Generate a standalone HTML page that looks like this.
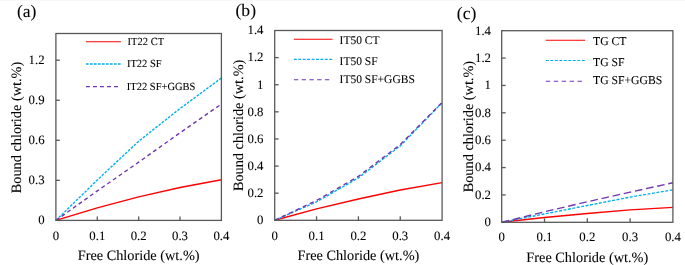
<!DOCTYPE html><html><head><meta charset="utf-8"><style>html,body{margin:0;padding:0;background:#fff;}svg{display:block;}text{text-rendering:geometricPrecision;}</style></head><body>
<svg width="685" height="265" viewBox="0 0 685 265" font-family='"Liberation Serif", serif'>
<defs><filter id="gs" filterUnits="userSpaceOnUse" x="0" y="0" width="685" height="265" color-interpolation-filters="sRGB"><feColorMatrix type="saturate" values="0"/></filter></defs>
<rect width="685" height="265" fill="#fff"/>
<rect width="685" height="1" fill="#f8f8f8"/>
<g>
<polyline points="55.90,220.40 97.28,207.85 138.65,196.90 180.02,187.56 221.40,179.68" fill="none" stroke="#ff0000" stroke-width="1.45" stroke-linejoin="round"/>
<polyline points="55.90,220.40 97.28,180.08 138.65,141.23 180.02,108.53 221.40,77.96" fill="none" stroke="#00b0f0" stroke-width="1.4" stroke-dasharray="2.64 1.36" stroke-linejoin="round"/>
<polyline points="55.90,220.40 97.28,190.90 138.65,162.19 180.02,132.82 221.40,104.12" fill="none" stroke="#7035b0" stroke-width="1.4" stroke-dasharray="3.92 3.08" stroke-linejoin="round"/>
<rect x="55.90" y="33.50" width="165.50" height="186.90" fill="none" stroke="#595959" stroke-width="1.3"/>
<line x1="55.90" y1="180.35" x2="59.90" y2="180.35" stroke="#595959" stroke-width="1.3"/>
<line x1="55.90" y1="140.30" x2="59.90" y2="140.30" stroke="#595959" stroke-width="1.3"/>
<line x1="55.90" y1="100.25" x2="59.90" y2="100.25" stroke="#595959" stroke-width="1.3"/>
<line x1="55.90" y1="60.20" x2="59.90" y2="60.20" stroke="#595959" stroke-width="1.3"/>
<line x1="97.28" y1="220.40" x2="97.28" y2="216.40" stroke="#595959" stroke-width="1.3"/>
<line x1="138.65" y1="220.40" x2="138.65" y2="216.40" stroke="#595959" stroke-width="1.3"/>
<line x1="180.02" y1="220.40" x2="180.02" y2="216.40" stroke="#595959" stroke-width="1.3"/>
<line x1="86.00" y1="41.70" x2="120.90" y2="41.70" stroke="#ff0000" stroke-width="1.1"/>
<line x1="86.00" y1="64.00" x2="120.90" y2="64.00" stroke="#00b0f0" stroke-width="1.5" stroke-dasharray="2.64 1.36"/>
<line x1="86.00" y1="86.70" x2="120.90" y2="86.70" stroke="#7035b0" stroke-width="1.3" stroke-dasharray="3.92 3.08"/>
<polyline points="274.70,220.30 316.55,208.91 358.40,199.02 400.25,190.07 442.10,182.61" fill="none" stroke="#ff0000" stroke-width="1.45" stroke-linejoin="round"/>
<polyline points="274.70,220.30 316.55,201.86 358.40,177.87 400.25,145.87 442.10,102.76" fill="none" stroke="#00b0f0" stroke-width="1.4" stroke-dasharray="2.92 1.50" stroke-linejoin="round"/>
<polyline points="274.70,220.30 316.55,200.51 358.40,176.37 400.25,144.65 442.10,102.35" fill="none" stroke="#7035b0" stroke-width="1.4" stroke-dasharray="4.34 3.41" stroke-linejoin="round"/>
<rect x="274.70" y="30.50" width="167.40" height="189.80" fill="none" stroke="#595959" stroke-width="1.3"/>
<line x1="274.70" y1="193.19" x2="278.70" y2="193.19" stroke="#595959" stroke-width="1.3"/>
<line x1="274.70" y1="166.07" x2="278.70" y2="166.07" stroke="#595959" stroke-width="1.3"/>
<line x1="274.70" y1="138.96" x2="278.70" y2="138.96" stroke="#595959" stroke-width="1.3"/>
<line x1="274.70" y1="111.84" x2="278.70" y2="111.84" stroke="#595959" stroke-width="1.3"/>
<line x1="274.70" y1="84.73" x2="278.70" y2="84.73" stroke="#595959" stroke-width="1.3"/>
<line x1="274.70" y1="57.61" x2="278.70" y2="57.61" stroke="#595959" stroke-width="1.3"/>
<line x1="316.55" y1="220.30" x2="316.55" y2="216.30" stroke="#595959" stroke-width="1.3"/>
<line x1="358.40" y1="220.30" x2="358.40" y2="216.30" stroke="#595959" stroke-width="1.3"/>
<line x1="400.25" y1="220.30" x2="400.25" y2="216.30" stroke="#595959" stroke-width="1.3"/>
<line x1="293.90" y1="39.20" x2="332.50" y2="39.20" stroke="#ff0000" stroke-width="1.1"/>
<line x1="293.90" y1="59.40" x2="332.50" y2="59.40" stroke="#00b0f0" stroke-width="1.15" stroke-dasharray="2.92 1.50"/>
<line x1="293.90" y1="79.70" x2="332.50" y2="79.70" stroke="#7035b0" stroke-width="1.15" stroke-dasharray="4.34 3.41"/>
<polyline points="501.70,222.30 544.50,217.51 587.30,213.54 630.10,209.85 672.90,207.38" fill="none" stroke="#ff0000" stroke-width="1.45" stroke-linejoin="round"/>
<polyline points="501.70,222.30 544.50,213.95 587.30,205.47 630.10,197.12 672.90,189.86" fill="none" stroke="#00b0f0" stroke-width="1.4" stroke-dasharray="2.97 1.53" stroke-linejoin="round"/>
<polyline points="501.70,222.30 544.50,211.76 587.30,201.77 630.10,192.19 672.90,182.75" fill="none" stroke="#7035b0" stroke-width="1.4" stroke-dasharray="7.6 3.8" stroke-linejoin="round"/>
<rect x="501.70" y="30.70" width="171.20" height="191.60" fill="none" stroke="#595959" stroke-width="1.3"/>
<line x1="501.70" y1="194.93" x2="505.70" y2="194.93" stroke="#595959" stroke-width="1.3"/>
<line x1="501.70" y1="167.56" x2="505.70" y2="167.56" stroke="#595959" stroke-width="1.3"/>
<line x1="501.70" y1="140.19" x2="505.70" y2="140.19" stroke="#595959" stroke-width="1.3"/>
<line x1="501.70" y1="112.81" x2="505.70" y2="112.81" stroke="#595959" stroke-width="1.3"/>
<line x1="501.70" y1="85.44" x2="505.70" y2="85.44" stroke="#595959" stroke-width="1.3"/>
<line x1="501.70" y1="58.07" x2="505.70" y2="58.07" stroke="#595959" stroke-width="1.3"/>
<line x1="544.50" y1="222.30" x2="544.50" y2="218.30" stroke="#595959" stroke-width="1.3"/>
<line x1="587.30" y1="222.30" x2="587.30" y2="218.30" stroke="#595959" stroke-width="1.3"/>
<line x1="630.10" y1="222.30" x2="630.10" y2="218.30" stroke="#595959" stroke-width="1.3"/>
<line x1="545.80" y1="40.20" x2="585.10" y2="40.20" stroke="#ff0000" stroke-width="1.1"/>
<line x1="545.80" y1="60.50" x2="585.10" y2="60.50" stroke="#00b0f0" stroke-width="1.15" stroke-dasharray="2.97 1.53"/>
<line x1="545.80" y1="81.20" x2="585.10" y2="81.20" stroke="#7035b0" stroke-width="1.15" stroke-dasharray="4.44 3.48"/>
<g fill="#000" stroke="#000" stroke-width="0.08" filter="url(#gs)">
<text transform="translate(44.60,224.20) scale(1,1.0)" font-size="12.8" text-anchor="end">0</text>
<text transform="translate(44.60,184.15) scale(1,1.0)" font-size="12.8" text-anchor="end">0.3</text>
<text transform="translate(44.60,144.10) scale(1,1.0)" font-size="12.8" text-anchor="end">0.6</text>
<text transform="translate(44.60,104.05) scale(1,1.0)" font-size="12.8" text-anchor="end">0.9</text>
<text transform="translate(44.60,64.00) scale(1,1.0)" font-size="12.8" text-anchor="end">1.2</text>
<text transform="translate(55.90,240.00) scale(1,1.0)" font-size="12.8" text-anchor="middle">0</text>
<text transform="translate(97.28,240.00) scale(1,1.0)" font-size="12.8" text-anchor="middle">0.1</text>
<text transform="translate(138.65,240.00) scale(1,1.0)" font-size="12.8" text-anchor="middle">0.2</text>
<text transform="translate(180.02,240.00) scale(1,1.0)" font-size="12.8" text-anchor="middle">0.3</text>
<text transform="translate(221.40,240.00) scale(1,1.0)" font-size="12.8" text-anchor="middle">0.4</text>
<text x="138.65" y="259.90" font-size="14.3" text-anchor="middle">Free Chloride (wt.%)</text>
<text transform="translate(21.20,127.50) rotate(-90)" font-size="14.3" text-anchor="middle">Bound chloride (wt.%)</text>
<text x="16.90" y="17.20" font-size="17.6">(a)</text>
<text transform="translate(127.60,44.90) scale(1,1.03)" font-size="10.5">IT22 CT</text>
<text transform="translate(126.90,66.80) scale(1,1.03)" font-size="10.5">IT22 SF</text>
<text transform="translate(126.80,89.90) scale(1,1.03)" font-size="10.5">IT22 SF+GGBS</text>
<text transform="translate(263.50,224.10) scale(1,1.0)" font-size="12.8" text-anchor="end">0</text>
<text transform="translate(263.50,196.99) scale(1,1.0)" font-size="12.8" text-anchor="end">0.2</text>
<text transform="translate(263.50,169.87) scale(1,1.0)" font-size="12.8" text-anchor="end">0.4</text>
<text transform="translate(263.50,142.76) scale(1,1.0)" font-size="12.8" text-anchor="end">0.6</text>
<text transform="translate(263.50,115.64) scale(1,1.0)" font-size="12.8" text-anchor="end">0.8</text>
<text transform="translate(263.50,88.53) scale(1,1.0)" font-size="12.8" text-anchor="end">1</text>
<text transform="translate(263.50,61.41) scale(1,1.0)" font-size="12.8" text-anchor="end">1.2</text>
<text transform="translate(263.50,34.30) scale(1,1.0)" font-size="12.8" text-anchor="end">1.4</text>
<text transform="translate(274.70,239.60) scale(1,1.0)" font-size="12.8" text-anchor="middle">0</text>
<text transform="translate(316.55,239.60) scale(1,1.0)" font-size="12.8" text-anchor="middle">0.1</text>
<text transform="translate(358.40,239.60) scale(1,1.0)" font-size="12.8" text-anchor="middle">0.2</text>
<text transform="translate(400.25,239.60) scale(1,1.0)" font-size="12.8" text-anchor="middle">0.3</text>
<text transform="translate(442.10,239.60) scale(1,1.0)" font-size="12.8" text-anchor="middle">0.4</text>
<text x="358.40" y="259.80" font-size="14.3" text-anchor="middle">Free Chloride (wt.%)</text>
<text transform="translate(242.60,125.40) rotate(-90)" font-size="14.3" text-anchor="middle">Bound chloride (wt.%)</text>
<text x="235.50" y="16.20" font-size="17.6">(b)</text>
<text transform="translate(339.60,44.00) scale(1,1.03)" font-size="11.5">IT50 CT</text>
<text transform="translate(339.60,64.70) scale(1,1.03)" font-size="11.5">IT50 SF</text>
<text transform="translate(339.60,82.50) scale(1,1.03)" font-size="11.5">IT50 SF+GGBS</text>
<text transform="translate(491.00,226.10) scale(1,1.0)" font-size="12.8" text-anchor="end">0</text>
<text transform="translate(491.00,198.73) scale(1,1.0)" font-size="12.8" text-anchor="end">0.2</text>
<text transform="translate(491.00,171.36) scale(1,1.0)" font-size="12.8" text-anchor="end">0.4</text>
<text transform="translate(491.00,143.99) scale(1,1.0)" font-size="12.8" text-anchor="end">0.6</text>
<text transform="translate(491.00,116.61) scale(1,1.0)" font-size="12.8" text-anchor="end">0.8</text>
<text transform="translate(491.00,89.24) scale(1,1.0)" font-size="12.8" text-anchor="end">1</text>
<text transform="translate(491.00,61.87) scale(1,1.0)" font-size="12.8" text-anchor="end">1.2</text>
<text transform="translate(491.00,34.50) scale(1,1.0)" font-size="12.8" text-anchor="end">1.4</text>
<text transform="translate(501.70,241.40) scale(1,1.0)" font-size="12.8" text-anchor="middle">0</text>
<text transform="translate(544.50,241.40) scale(1,1.0)" font-size="12.8" text-anchor="middle">0.1</text>
<text transform="translate(587.30,241.40) scale(1,1.0)" font-size="12.8" text-anchor="middle">0.2</text>
<text transform="translate(630.10,241.40) scale(1,1.0)" font-size="12.8" text-anchor="middle">0.3</text>
<text transform="translate(672.90,241.40) scale(1,1.0)" font-size="12.8" text-anchor="middle">0.4</text>
<text x="587.30" y="261.90" font-size="14.3" text-anchor="middle">Free Chloride (wt.%)</text>
<text transform="translate(472.70,126.60) rotate(-90)" font-size="14.3" text-anchor="middle">Bound chloride (wt.%)</text>
<text x="456.80" y="18.80" font-size="17.6">(c)</text>
<text transform="translate(593.00,44.50) scale(1,1.03)" font-size="11.7">TG CT</text>
<text transform="translate(593.00,66.30) scale(1,1.03)" font-size="11.7">TG SF</text>
<text transform="translate(593.00,84.20) scale(1,1.03)" font-size="11.7">TG SF+GGBS</text>
</g></g>
</svg></body></html>
